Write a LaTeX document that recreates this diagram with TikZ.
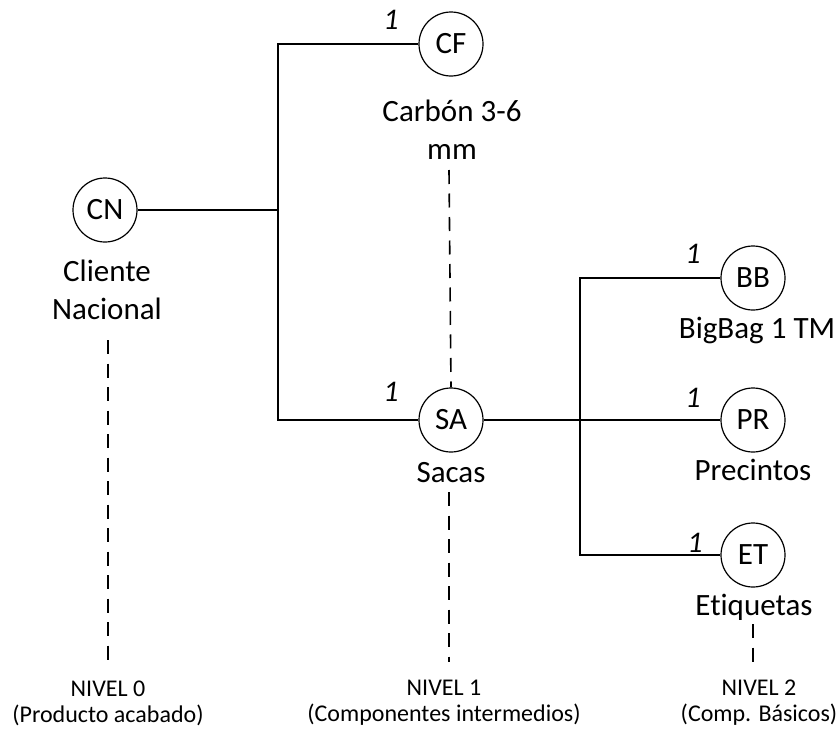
\documentclass[tikz,border=0pt]{standalone}
\usepackage{fontspec}
\setmainfont{Carlito}[Ligatures=NoCommon]
\begin{document}
\begin{tikzpicture}[x=1pt,y=-1pt,
  item/.style={draw,circle,line width=1.2pt,minimum size=64pt,inner sep=0pt,font=\fontsize{31}{36}\selectfont},
  lbl/.style={align=center,inner sep=0pt,font=\fontsize{31}{38}\selectfont},
  qty/.style={inner sep=0pt,font=\fontsize{30}{34}\selectfont\itshape},
  lvl/.style={align=center,inner sep=0pt,font=\fontsize{24}{26}\selectfont},
  conn/.style={line width=1.3pt},
  lvlline/.style={line width=1.6pt,dash pattern=on 14pt off 9.5pt}]
\useasboundingbox (0,0) rectangle (839,731);
% items
\node[item] (CN) at (105,210) {CN};
\node[item] (CF) at (451,44) {CF};
\node[item] (SA) at (451,420) {SA};
\node[item] (BB) at (753,278) {BB};
\node[item] (PR) at (753,420) {PR};
\node[item] (ET) at (753,555) {ET};
% names
\node[lbl] (CNl) at (107,290) {Cliente\\Nacional};
\node[lbl] (CFl) at (452,130) {Carbón 3-6\\mm};
\node[lbl] (SAl) at (451,473) {Sacas};
\node[lbl] (BBl) at (757,330) {BigBag 1 TM};
\node[lbl] (PRl) at (753,470) {Precintos};
\node[lbl] (ETl) at (754,607) {Etiquetas};
% quantities
\node[qty] (q1) at (391,20) {1};
\node[qty] (q2) at (391,392) {1};
\node[qty] (q3) at (693,254) {1};
\node[qty] (q4) at (693,398) {1};
\node[qty] (q5) at (695,543) {1};
% connectors
\coordinate (j1) at (278,210);
\coordinate (j2) at (580,420);
\draw[conn] (CN) -- (j1);
\draw[conn] (CF.west) -| (j1) |- (SA.west);
\draw[conn] (SA) -- (PR);
\draw[conn] (BB.west) -| (j2) |- (ET.west);
% level lines
\coordinate (a0) at (108,340);
\coordinate (b0) at (108,662);
\coordinate (a1) at (449,170);
\coordinate (a2) at (449,492);
\coordinate (b2) at (449,662);
\coordinate (a3) at (753,624);
\coordinate (b3) at (753,662);
\draw[lvlline] (a0) -- (b0);
\draw[lvlline] (a1) -- (SA.north);
\draw[lvlline] (a2) -- (b2);
\draw[lvlline] (a3) -- (b3);
% level labels
\node[lvl] (L0) at (108,703) {NIVEL 0\\(Producto acabado)};
\node[lvl] (L1) at (444,703) {NIVEL 1\\(Componentes intermedios)};
\node[lvl] (L2) at (759,703) {NIVEL 2\\(Comp. Básicos)};
\end{tikzpicture}
\end{document}
